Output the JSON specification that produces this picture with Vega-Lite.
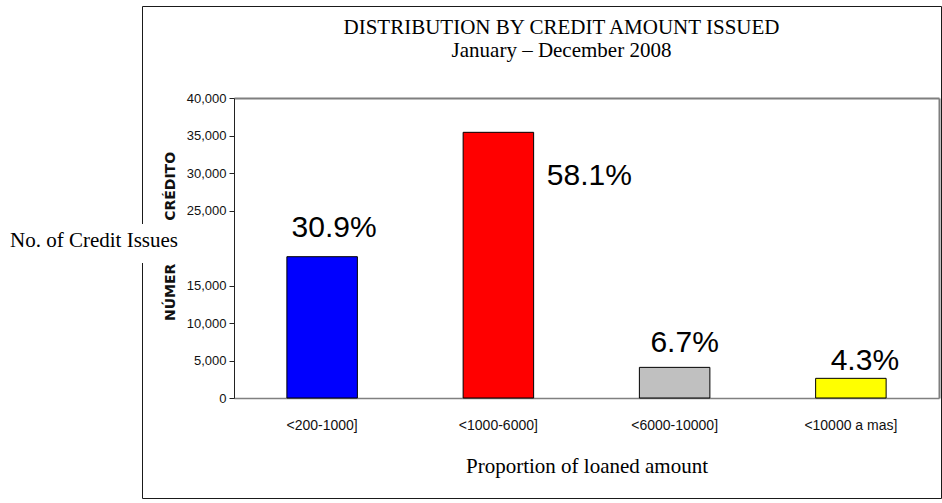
{
  "$schema": "https://vega.github.io/schema/vega-lite/v6.json",
  "autosize": "none",
  "width": 799,
  "height": 492,
  "padding": {"left": 142, "top": 6, "right": 1, "bottom": 5},
  "background": "white",
  "view": {"stroke": "#1a1a1a", "strokeWidth": 1, "fill": "white"},
  "title": {
    "text": "DISTRIBUTION BY CREDIT AMOUNT ISSUED",
    "subtitle": "January – December 2008",
    "font": "Liberation Serif",
    "fontSize": 21,
    "fontWeight": "normal",
    "color": "black",
    "subtitleFont": "Liberation Serif",
    "subtitleFontSize": 21,
    "subtitleColor": "black",
    "subtitlePadding": 2,
    "anchor": "middle",
    "frame": "group",
    "offset": -54.5,
    "dx": 20
  },
  "data": {
    "values": [
      {"range": "<200-1000]", "credits": 18840, "share": 0.309},
      {"range": "<1000-6000]", "credits": 35424, "share": 0.581},
      {"range": "<6000-10000]", "credits": 4085, "share": 0.067},
      {"range": "<10000 a mas]", "credits": 2622, "share": 0.043}
    ]
  },
  "layer": [
    {
      "mark": {"type": "bar", "stroke": "black", "strokeWidth": 1},
      "encoding": {
        "x": {
          "field": "range", "type": "nominal", "sort": null,
          "scale": {"range": [92, 797], "paddingInner": 0.6, "paddingOuter": 0.3},
          "axis": {
            "orient": "bottom", "offset": -100, "zindex": 0,
            "domainColor": "#808080", "domainWidth": 1.5,
            "ticks": false, "labelAngle": 0, "labelPadding": 20,
            "labelFont": "Liberation Sans", "labelFontSize": 14, "labelColor": "#111111",
            "title": "Proportion of loaned amount",
            "titleFont": "Liberation Serif", "titleFontSize": 21, "titleFontWeight": "normal",
            "titleColor": "black", "titlePadding": 23
          }
        },
        "y": {
          "field": "credits", "type": "quantitative",
          "scale": {"domain": [0, 40000], "range": [392, 92], "nice": false, "zero": true},
          "axis": {
            "orient": "left", "offset": -92, "zindex": 0,
            "values": [0, 5000, 10000, 15000, 20000, 25000, 30000, 35000, 40000],
            "format": ",d", "grid": false,
            "domainColor": "#222222", "domainWidth": 1,
            "tickColor": "#222222", "tickSize": 5, "labelPadding": 3,
            "labelFont": "Liberation Sans", "labelFontSize": 13, "labelColor": "#111111",
            "title": "NÚMERO DE CRÉDITO",
            "titleFont": "DejaVu Sans", "titleFontSize": 14, "titleFontWeight": "bold",
            "titleColor": "#111111", "titleY": 230, "titlePadding": 9
          }
        },
        "color": {
          "field": "range", "type": "nominal", "sort": null,
          "scale": {
            "domain": ["<200-1000]", "<1000-6000]", "<6000-10000]", "<10000 a mas]"],
            "range": ["#0000ff", "#ff0000", "#c0c0c0", "#ffff00"]
          },
          "legend": {
            "orient": "none", "legendX": -144, "legendY": 218,
            "values": ["<200-1000]"],
            "title": "No. of Credit Issues",
            "titleFont": "Liberation Serif", "titleFontSize": 21, "titleFontWeight": "normal",
            "titleColor": "black", "titleOrient": "left", "titlePadding": 4,
            "titleBaseline": "middle",
            "symbolSize": 100, "symbolOpacity": 0, "symbolStrokeWidth": 0,
            "labelOpacity": 0, "labelFontSize": 8, "labelLimit": 28, "labelOffset": 3,
            "padding": 12, "fillColor": "white", "zindex": 2
          }
        }
      }
    },
    {
      "transform": [{"filter": {"field": "range", "equal": "<200-1000]"}}],
      "mark": {"type": "text", "font": "Liberation Sans", "fontSize": 30, "color": "black", "baseline": "alphabetic", "align": "center", "dx": 12, "dy": -20},
      "encoding": {
        "x": {
          "field": "range", "type": "nominal", "sort": null,
          "axis": {"orient": "top", "offset": -92, "zindex": 0, "domainColor": "#7f7f7f", "domainWidth": 2, "ticks": false, "labels": false, "title": null}
        },
        "y": {
          "field": "credits", "type": "quantitative",
          "axis": {"orient": "right", "offset": -2, "zindex": 0, "domainColor": "#7f7f7f", "domainWidth": 2, "ticks": false, "labels": false, "grid": false, "title": null}
        },
        "text": {"field": "share", "type": "quantitative", "format": ".1%"}
      }
    },
    {
      "transform": [{"filter": {"field": "range", "equal": "<1000-6000]"}}],
      "mark": {"type": "text", "font": "Liberation Sans", "fontSize": 30, "color": "black", "baseline": "alphabetic", "align": "center", "dx": 91, "dy": 53},
      "encoding": {
        "x": {"field": "range", "type": "nominal", "sort": null, "axis": null},
        "y": {"field": "credits", "type": "quantitative", "axis": null},
        "text": {"field": "share", "type": "quantitative", "format": ".1%"}
      }
    },
    {
      "transform": [{"filter": {"field": "range", "equal": "<6000-10000]"}}],
      "mark": {"type": "text", "font": "Liberation Sans", "fontSize": 30, "color": "black", "baseline": "alphabetic", "align": "center", "dx": 10, "dy": -15},
      "encoding": {
        "x": {"field": "range", "type": "nominal", "sort": null, "axis": null},
        "y": {"field": "credits", "type": "quantitative", "axis": null},
        "text": {"field": "share", "type": "quantitative", "format": ".1%"}
      }
    },
    {
      "transform": [{"filter": {"field": "range", "equal": "<10000 a mas]"}}],
      "mark": {"type": "text", "font": "Liberation Sans", "fontSize": 30, "color": "black", "baseline": "alphabetic", "align": "center", "dx": 14, "dy": -8},
      "encoding": {
        "x": {"field": "range", "type": "nominal", "sort": null, "axis": null},
        "y": {"field": "credits", "type": "quantitative", "axis": null},
        "text": {"field": "share", "type": "quantitative", "format": ".1%"}
      }
    }
  ],
  "resolve": {"axis": {"x": "independent", "y": "independent"}}
}
